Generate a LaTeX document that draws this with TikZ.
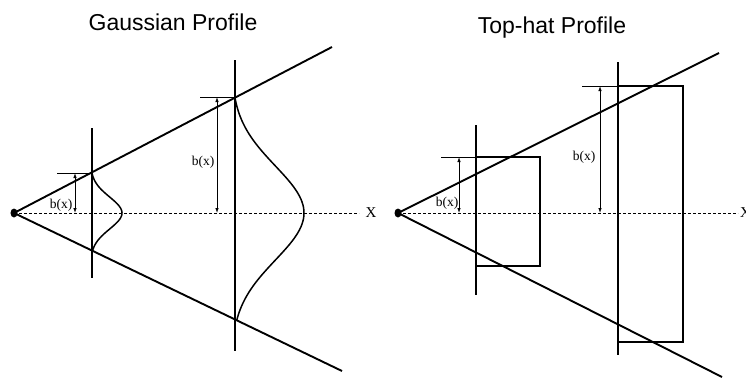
\documentclass[tikz,border=0pt]{standalone}
\usepackage{fontspec}
\setmainfont{Liberation Serif}
\setsansfont{Liberation Sans}
\usetikzlibrary{arrows.meta, calc}

\begin{document}
\begin{tikzpicture}[x=1pt, y=-1pt,
  ray/.style={line width=1.9pt},
  screen/.style={line width=1.9pt},
  profile/.style={line width=1.5pt},
  axis/.style={dash pattern=on 3pt off 2pt, line width=0.9pt},
  tick/.style={line width=0.8pt},
  dim/.style={{Latex[length=5pt,width=3.5pt]}-{Latex[length=5pt,width=3.5pt]}, line width=0.8pt},
  dimlabel/.style={font=\fontsize{13.5}{13.5}\selectfont, inner sep=0pt},
  xlabel/.style={font=\fontsize{15}{15}\selectfont, inner sep=0pt},
  title/.style={font=\sffamily\fontsize{23}{23}\selectfont, inner sep=0pt}
]
  \useasboundingbox (0,0) rectangle (746,378);

  % Titles
  \node[title] (gtitle) at (173,22) {Gaussian Profile};
  \node[title] (ttitle) at (552,28) {Top-hat Profile};

  % Gaussian side
  \coordinate (gapex) at (14,213);
  \coordinate (gup) at (332,47);
  \coordinate (glow) at (342,371);
  \coordinate (gaxis) at (359,213);
  \fill (gapex) ellipse (3.5pt and 4.5pt);
  \draw[ray] (gapex) -- (gup);
  \draw[ray] (gapex) -- (glow);
  \draw[axis] (gapex) -- (gaxis);
  \node[xlabel] (gx) at (371,213) {X};

  % small screen
  \coordinate (s1top) at (92,128);
  \coordinate (s1bot) at (92,278);
  \draw[screen] (s1top) -- (s1bot);
  \draw[profile] plot[domain=-40:38, samples=50, smooth]
    ({92+30*(exp(-((\x)*(\x))/512)-0.044)/0.956}, {213+\x});
  \coordinate (s1hit) at (92,173);
  \coordinate (s1tick) at (57,173);
  \coordinate (s1arrtop) at (75,173);
  \coordinate (s1arrbot) at (75,213);
  \draw[tick] (s1tick) -- (s1hit);
  \draw[dim] (s1arrtop) -- (s1arrbot);
  \node[dimlabel] (b1) at (61,205) {b(x)};

  % large screen
  \coordinate (s2top) at (235,60);
  \coordinate (s2bot) at (235,351);
  \draw[screen] (s2top) -- (s2bot);
  \draw[profile] plot[domain=-115:107, samples=80, smooth]
    ({235+69*(exp(-((\x)*(\x))/4418)-0.05)/0.95}, {213+\x});
  \coordinate (s2hit) at (235,97);
  \coordinate (s2tick) at (200,97);
  \coordinate (s2arrtop) at (217,97);
  \coordinate (s2arrbot) at (217,213);
  \draw[tick] (s2tick) -- (s2hit);
  \draw[dim] (s2arrtop) -- (s2arrbot);
  \node[dimlabel] (b2) at (203,162) {b(x)};

  % Top-hat side
  \coordinate (tapex) at (398,213);
  \coordinate (tup) at (719,53);
  \coordinate (tlow) at (722,377);
  \coordinate (taxis) at (738,213);
  \fill (tapex) ellipse (3.5pt and 4.5pt);
  \draw[ray] (tapex) -- (tup);
  \draw[ray] (tapex) -- (tlow);
  \draw[axis] (tapex) -- (taxis);
  \node[xlabel, anchor=west] (tx) at (740,213) {X};

  % small screen
  \coordinate (s3top) at (476,125);
  \coordinate (s3bot) at (476,295);
  \draw[screen] (s3top) -- (s3bot);
  \draw[profile] (476,266) -- (540,266) -- (540,157) -- (476,157);
  \coordinate (s3hit) at (476,157);
  \coordinate (s3tick) at (441,157);
  \coordinate (s3arrtop) at (459,157);
  \coordinate (s3arrbot) at (459,213);
  \draw[tick] (s3tick) -- (s3hit);
  \draw[dim] (s3arrtop) -- (s3arrbot);
  \node[dimlabel] (b3) at (447,203) {b(x)};

  % large screen
  \coordinate (s4top) at (618,62);
  \coordinate (s4bot) at (618,355);
  \draw[screen] (s4top) -- (s4bot);
  \draw[profile] (618,342) -- (683,342) -- (683,86) -- (618,86);
  \coordinate (s4hit) at (618,86);
  \coordinate (s4tick) at (582,86);
  \coordinate (s4arrtop) at (600,86);
  \coordinate (s4arrbot) at (600,213);
  \draw[tick] (s4tick) -- (s4hit);
  \draw[dim] (s4arrtop) -- (s4arrbot);
  \node[dimlabel] (b4) at (584,157) {b(x)};
\end{tikzpicture}
\end{document}
